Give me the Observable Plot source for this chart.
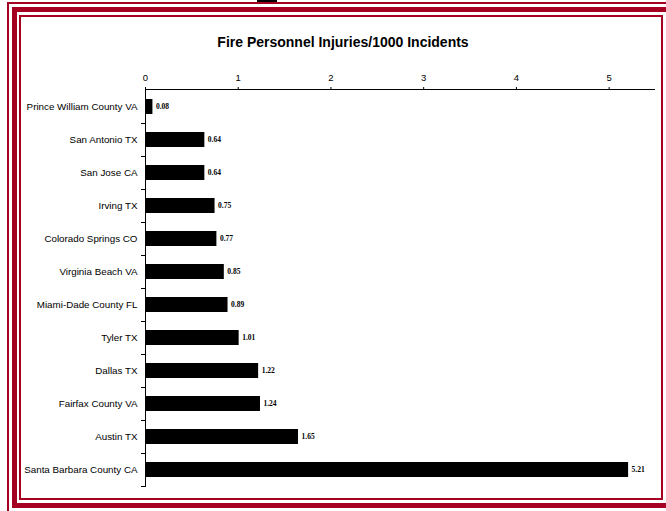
<!DOCTYPE html>
<html>
<head>
<meta charset="utf-8">
<script src="https://cdn.jsdelivr.net/npm/d3@7"></script>
<script src="https://cdn.jsdelivr.net/npm/@observablehq/plot@0.6"></script>
<style>
  html, body { margin: 0; padding: 0; background: #fff; }
  #page { position: relative; width: 666px; height: 511px; overflow: hidden; background: #fff; }
  .rim { position: absolute; box-sizing: border-box; border-style: solid; border-color: #a50021; }
  #outer { left: 7px; top: 2px; width: 680px; height: 520px; border-width: 2px; }
  #thick { left: 12px; top: 7px; width: 665px; height: 501px; border-width: 5px; }
  #inner { left: 19px; top: 15px; width: 644px; height: 485px; border-width: 2px; }
  #tab { position: absolute; left: 257px; top: 0; width: 20px; height: 2px; background: #000; }
  #title { position: absolute; left: 20px; width: 646px; top: 34px; text-align: center;
           font: bold 14px "Liberation Sans", Arial, sans-serif; color: #000; }
  #chart { position: absolute; left: 0; top: 0; }
</style>
</head>
<body>
<div id="page">
  <div id="outer" class="rim"></div>
  <div id="thick" class="rim"></div>
  <div id="inner" class="rim"></div>
  <div id="tab"></div>
  <div id="title">Fire Personnel Injuries/1000 Incidents</div>
  <div id="chart"></div>
</div>
<script>
// Jurisdictions, listed top to bottom
const jurisdictions = [
  "Prince William County VA",
  "San Antonio TX",
  "San Jose CA",
  "Irving TX",
  "Colorado Springs CO",
  "Virginia Beach VA",
  "Miami-Dade County FL",
  "Tyler TX",
  "Dallas TX",
  "Fairfax County VA",
  "Austin TX",
  "Santa Barbara County CA"
];

// Injuries per 1000 incidents
const injuryRates = [0.08, 0.64, 0.64, 0.75, 0.77, 0.85, 0.89, 1.01, 1.22, 1.24, 1.65, 5.21];

// Value-axis ticks
const xTicks = [0, 1, 2, 3, 4, 5];

const rows = jurisdictions.map((name, i) => ({name, rate: injuryRates[i]}));

const plot = Plot.plot({
  width: 666,
  height: 511,
  marginLeft: 145,
  marginRight: 11,
  marginTop: 89,
  marginBottom: 24,
  style: {fontFamily: "'Liberation Sans', Arial, sans-serif", fontSize: "9.8px", color: "#000", background: "transparent"},
  x: {domain: [0, 5.5], axis: null, label: null},
  y: {domain: jurisdictions, padding: 0, axis: null, label: null},
  marks: [
    Plot.barX(rows, {x: "rate", y: "name", fill: "#000", insetTop: 9, insetBottom: 9}),
    Plot.text(rows, {
      x: "rate", y: "name", text: d => d.rate.toFixed(2),
      textAnchor: "start", dx: 3, fill: "#000",
      fontFamily: "'Liberation Serif', 'Times New Roman', serif", fontWeight: "bold", fontSize: 7.5
    }),
    Plot.axisX({anchor: "top", ticks: xTicks, tickSize: 3, tickPadding: 6, tickFormat: d => d, label: null, fontSize: 9.5}),
    Plot.axisY({anchor: "left", tickSize: 0, tickPadding: 8, label: null}),
    Plot.ruleX([0], {stroke: "#000"})
  ]
});

// Axis line along the top and tick marks at the category boundaries,
// positioned from the plot's own scales.
const xs = plot.scale("x");
const ys = plot.scale("y");
const axisGroup = d3.select(plot).append("g").attr("stroke", "#000").attr("stroke-width", 1);
const plotTop = ys.range[0];
axisGroup.append("line")
  .attr("x1", xs.range[0]).attr("x2", xs.range[1])
  .attr("y1", plotTop + 0.5).attr("y2", plotTop + 0.5);
const bounds = jurisdictions.map(d => ys.apply(d))
  .concat([ys.apply(jurisdictions[jurisdictions.length - 1]) + ys.bandwidth]);
bounds.slice(1).forEach(b => {
  axisGroup.append("line")
    .attr("x1", xs.range[0] - 4).attr("x2", xs.range[0])
    .attr("y1", b + 0.5).attr("y2", b + 0.5);
});

document.getElementById("chart").appendChild(plot);
</script>
</body>
</html>
